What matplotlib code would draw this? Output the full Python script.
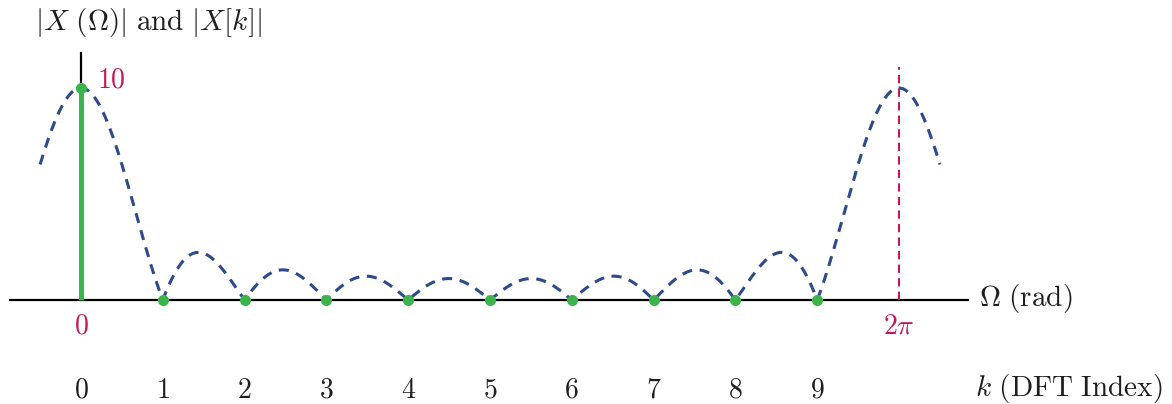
import numpy as np
import matplotlib.pyplot as plt

plt.rcParams['mathtext.fontset'] = 'cm'
plt.rcParams['font.family'] = 'serif'

# rectangular pulse, N = 10 samples
x_n = [1, 1, 1, 1, 1, 1, 1, 1, 1, 1]
N = len(x_n)
k_idx = list(range(N))
k_labels = ['0', '1', '2', '3', '4', '5', '6', '7', '8', '9']

# DFT samples
X_k = np.abs(np.fft.fft(x_n))

# DTFT magnitude on a fine grid, -pi/N .. 2pi + pi/N
omega = np.linspace(-np.pi / N, 2 * np.pi + np.pi / N, 1200)
n = np.arange(N)
X_w = np.abs(np.exp(-1j * np.outer(omega, n)) @ np.array(x_n, dtype=float))
k_cont = omega * N / (2 * np.pi)

blue = '#2f4a8c'
green = '#3cb44b'
red = '#c2185b'
ink = '#1e1e1e'

fig = plt.figure(figsize=(11.72, 4.04), dpi=100)
ax = fig.add_axes([0, 0, 1, 1])
ax.set_xlim(-0.990, 13.337)
ax.set_ylim(-4.906, 14.15)
ax.axis('off')

# axes
ax.plot([-0.87, 10.84], [0, 0], color='black', lw=1.6, zorder=1)
ax.plot([0, 0], [0, 11.65], color='black', lw=1.6, zorder=1)
ax.plot([N, N], [0, 11.0], color=red, lw=1.5, dashes=(4, 2.5), zorder=1)

# continuous spectrum
ax.plot(k_cont, X_w, color=blue, lw=2.2, dashes=(3.3, 2.5), zorder=2)

# DFT stems
for k, v in zip(k_idx, X_k):
    if v > 0.5:
        ax.plot([k, k], [0, v], color=green, lw=3.6, solid_capstyle='butt', zorder=3)
ax.plot(k_idx, X_k, 'o', color=green, ms=8, mec='none', zorder=4)

fs = 21
ax.text(-0.56, 13.1, r'$|X\ (\Omega)|\ \mathrm{and}\ |X[k]|$', fontsize=fs,
        ha='left', va='center', color=ink)
ax.text(0.19, 10.4, r'$10$', fontsize=fs - 1, color=red, ha='left', va='center')
ax.text(0, -1.25, r'$0$', fontsize=fs - 1, color=red, ha='center', va='center')
ax.text(N, -1.25, r'$2\pi$', fontsize=fs - 1, color=red, ha='center', va='center')
ax.text(10.98, 0.05, r'$\Omega\ \mathrm{(rad)}$', fontsize=fs, ha='left', va='center',
        color=ink)

for k, lab in zip(k_idx, k_labels):
    ax.text(k, -4.25, '$' + lab + '$', fontsize=fs - 1, ha='center', va='center', color=ink)
ax.text(10.93, -4.18, r'$k\ \mathrm{(DFT\ Index)}$', fontsize=fs, ha='left', va='center',
        color=ink)

fig.savefig('out.png', dpi=100)
